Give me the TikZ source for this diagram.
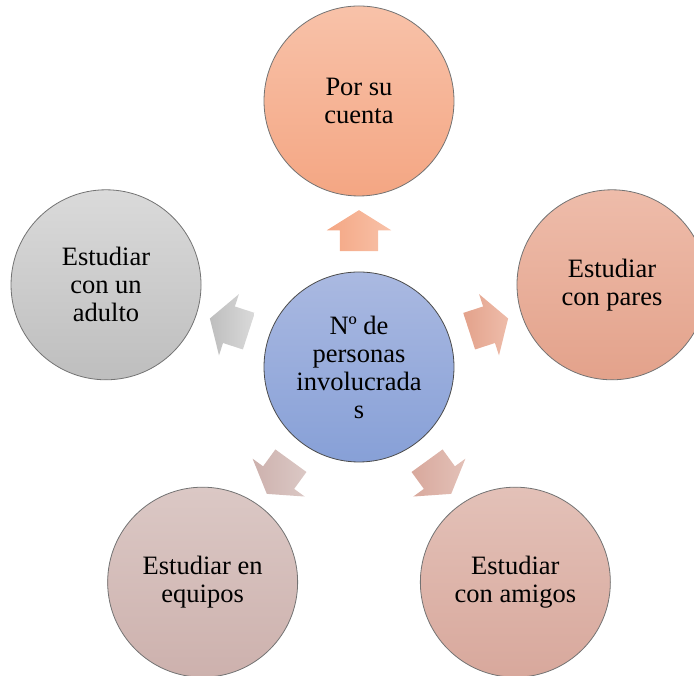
\documentclass[tikz,border=0pt]{standalone}
\usepackage{fontspec}
\setmainfont{Liberation Serif}
\usetikzlibrary{shapes.arrows, calc}

\definecolor{hubtop}{HTML}{AAB9E1}
\definecolor{hubbot}{HTML}{87A0D7}
\definecolor{salmontop}{HTML}{F8C2A9}
\definecolor{salmonbot}{HTML}{F4A683}
\definecolor{parestop}{HTML}{EEBCAA}
\definecolor{paresbot}{HTML}{E3A28B}
\definecolor{amigostop}{HTML}{E3C1B8}
\definecolor{amigosbot}{HTML}{D8A89C}
\definecolor{equipostop}{HTML}{DBC8C5}
\definecolor{equiposbot}{HTML}{CDB1AD}
\definecolor{adultotop}{HTML}{DADADA}
\definecolor{adultobot}{HTML}{BEBEBE}

\begin{document}
\begin{tikzpicture}[x=1pt, y=1pt,
    every node/.style={font=\fontsize{26.5}{28}\selectfont, align=center},
    bubble/.style={circle, draw=black!55, line width=0.8pt, minimum size=190pt, inner sep=0pt},
    blockarrow/.style={single arrow, minimum height=41pt, inner xsep=0pt, inner ysep=19pt, single arrow head extend=13pt, single arrow tip angle=116}]
    \useasboundingbox (0,0) rectangle (694,676);

    % hub and the five options around it
    \node[bubble, top color=hubtop, bottom color=hubbot, draw=black!70] (hub) at (359,309) {Nº de\\personas\\involucrada\\s};
    \node[bubble, top color=salmontop, bottom color=salmonbot] (cuenta) at ($(hub)+(90:266)$) {Por su\\cuenta};
    \node[bubble, top color=parestop, bottom color=paresbot] (pares) at ($(hub)+(18:266)$) {Estudiar\\con pares};
    \node[bubble, top color=amigostop, bottom color=amigosbot] (amigos) at ($(hub)+(-54:266)$) {Estudiar\\con amigos};
    \node[bubble, top color=equipostop, bottom color=equiposbot] (equipos) at ($(hub)+(-126:266)$) {Estudiar en\\equipos};
    \node[bubble, top color=adultotop, bottom color=adultobot] (adulto) at ($(hub)+(162:266)$) {Estudiar\\con un\\adulto};

    % block arrows
    \node[blockarrow, rotate=90, left color=salmonbot, right color=salmontop] (acuenta) at ($(hub)!0.49!(cuenta)$) {};
    \node[blockarrow, rotate=18, left color=paresbot, right color=parestop] (apares) at ($(hub)!0.49!(pares)$) {};
    \node[blockarrow, rotate=-54, left color=amigosbot, right color=amigostop] (aamigos) at ($(hub)!0.49!(amigos)$) {};
    \node[blockarrow, rotate=-126, left color=equiposbot, right color=equipostop] (aequipos) at ($(hub)!0.49!(equipos)$) {};
    \node[blockarrow, rotate=162, left color=adultobot, right color=adultotop] (aadulto) at ($(hub)!0.49!(adulto)$) {};
\end{tikzpicture}
\end{document}
